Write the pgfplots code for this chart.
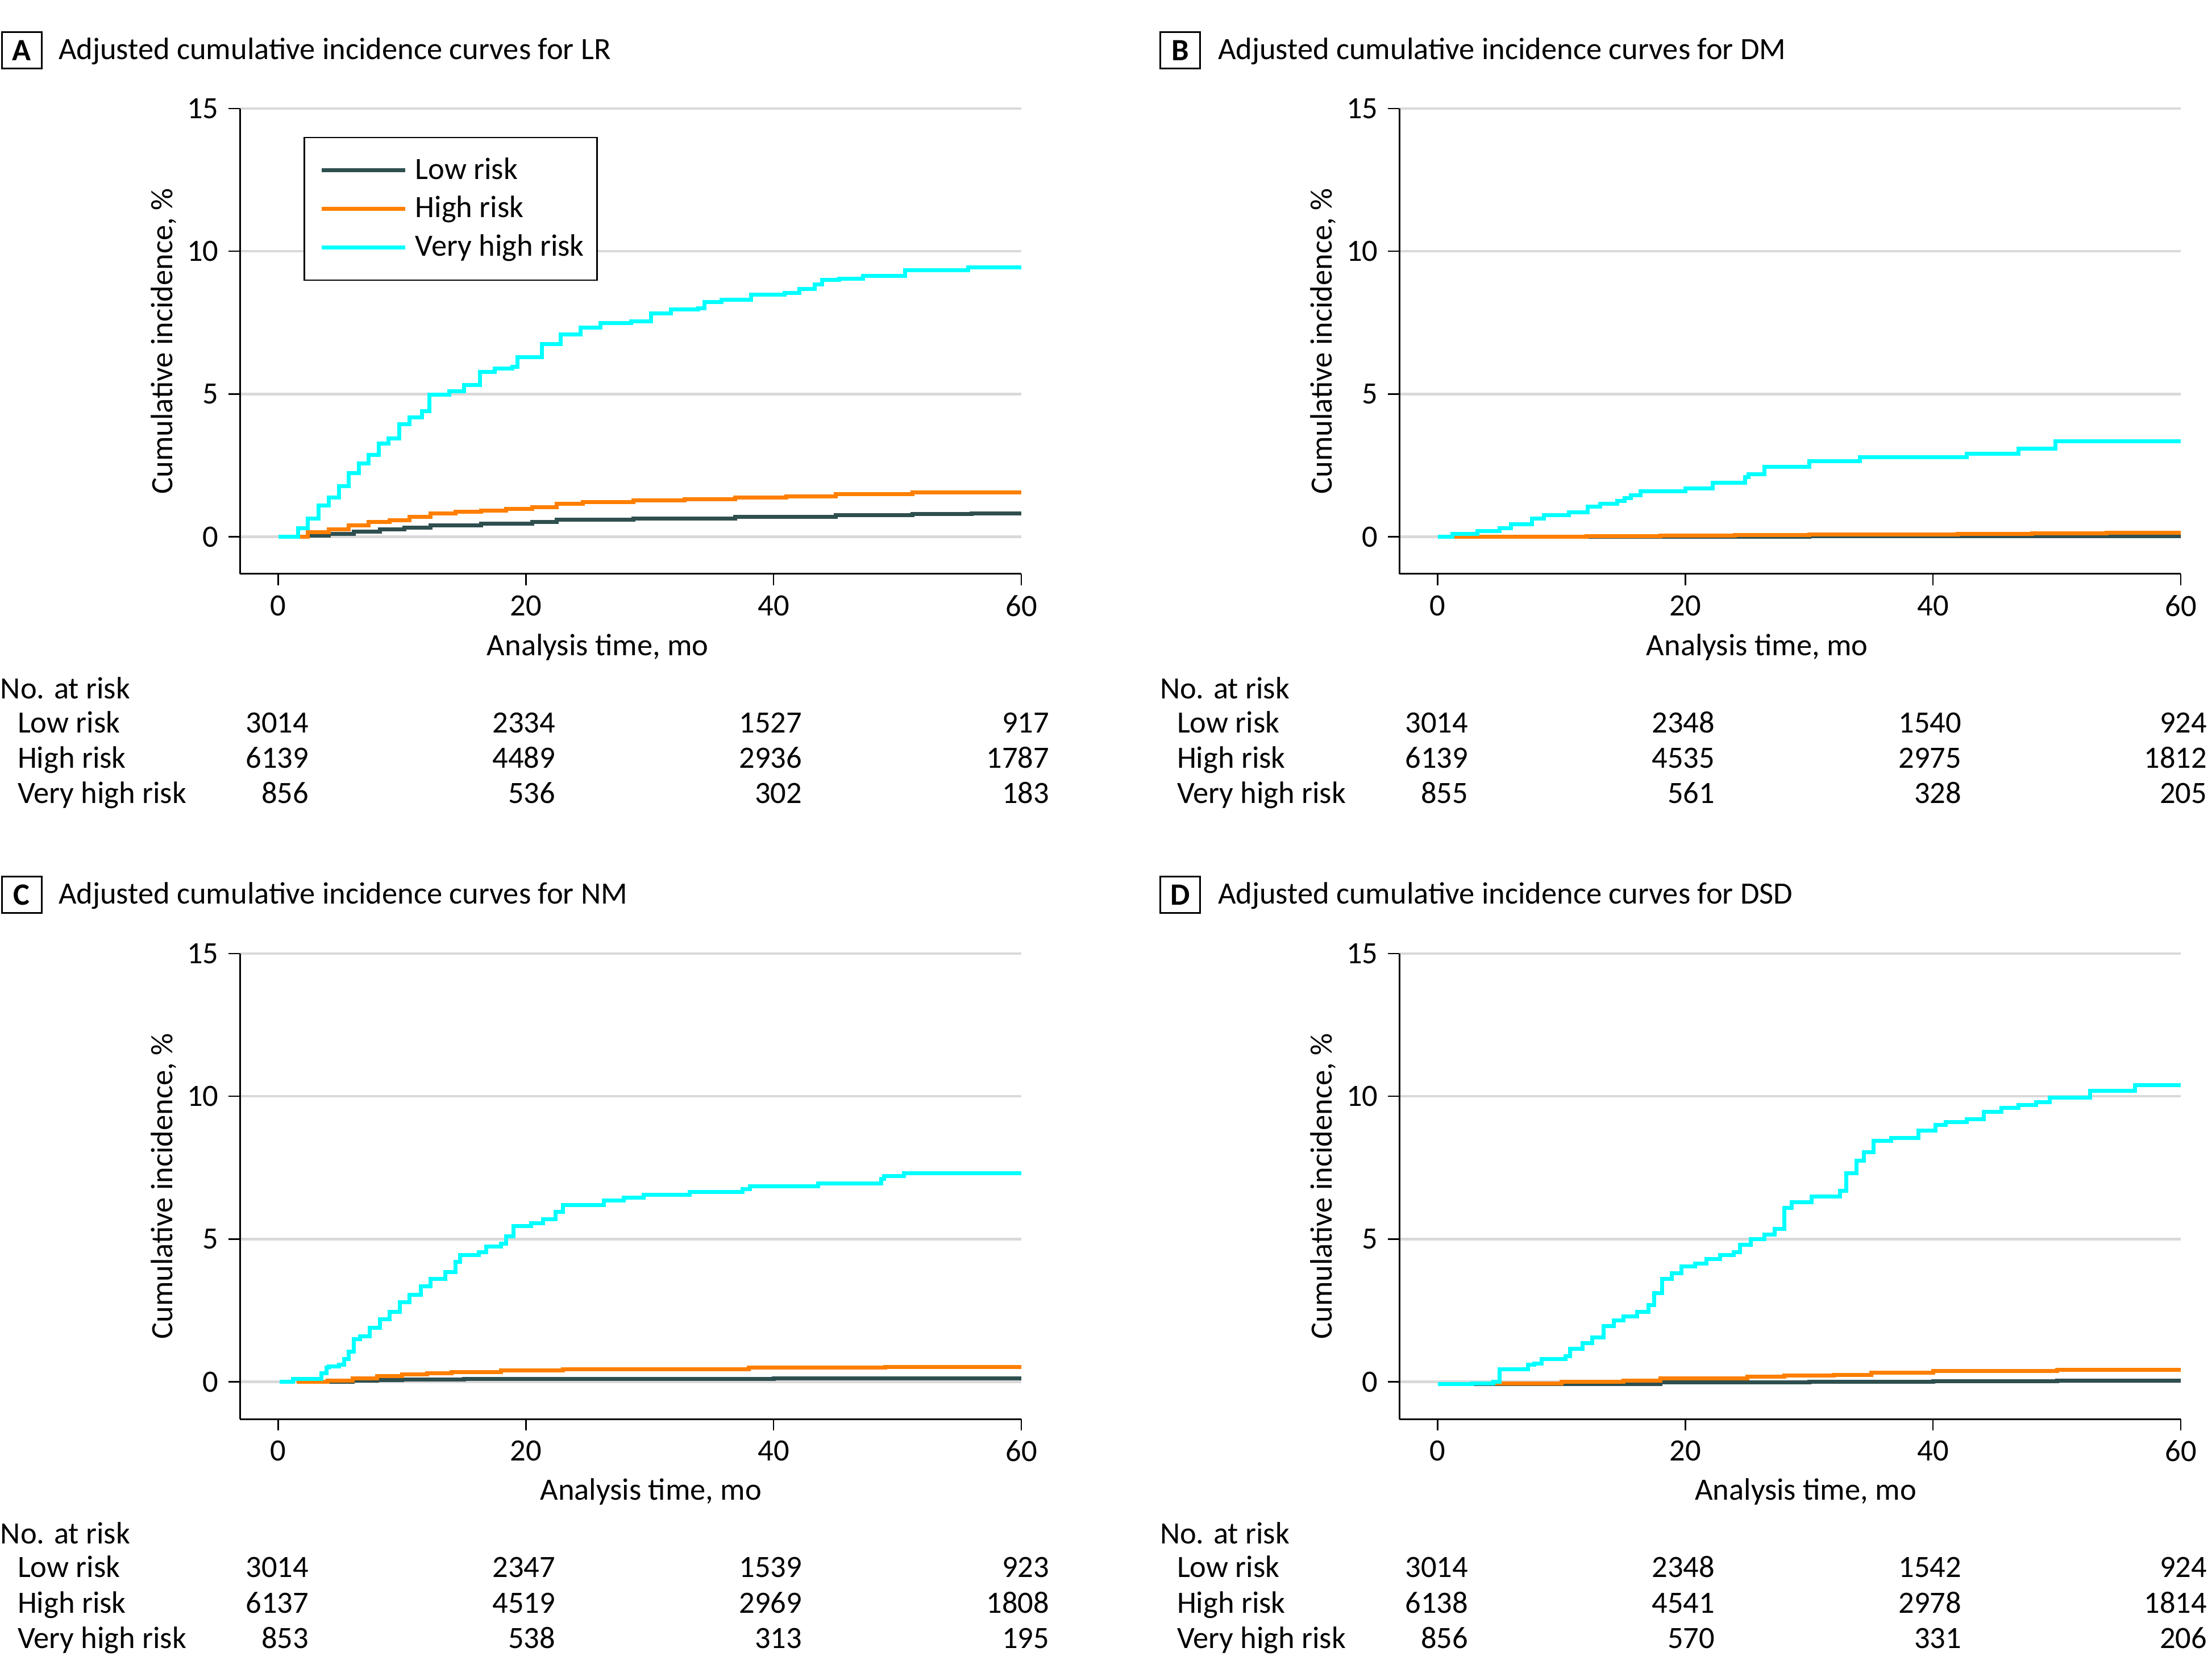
\documentclass[border=0pt]{standalone}
\usepackage{fontspec}
\setmainfont{Carlito}
\usepackage{pgfplots}
\pgfplotsset{compat=1.18}
\definecolor{lowc}{RGB}{47,79,79}
\definecolor{highc}{RGB}{255,127,0}
\definecolor{vhc}{RGB}{0,255,255}
\definecolor{gridc}{RGB}{217,217,217}
\newcommand{\fs}{\fontsize{10.9}{13}\selectfont}
\pgfplotsset{
  kmaxis/.style={
    scale only axis, width=275pt, height=163.8pt,
    xmin=-3.1, xmax=60, ymin=-1.3, ymax=15,
    axis x line*=bottom, axis y line*=left,
    axis line style={-, line width=0.6pt},
    xtick={0,20,40,60}, ytick={0,5,10,15},
    tick align=outside, major tick length=4pt,
    tick style={black, line width=0.5pt},
    ymajorgrids, grid style={gridc, line width=0.9pt},
    /pgf/number format/assume math mode=true,
    ticklabel style={font=\fs},
    label style={font=\fs},
    xlabel={Analysis time, mo},
    ylabel={Cumulative incidence, \%},
    ylabel style={at={(axis description cs:-0.0975,0.5)}, anchor=center},
    const plot,
  },
  lowp/.style={lowc, line width=1.4pt, no marks},
  highp/.style={highc, line width=1.4pt, no marks},
  vhp/.style={vhc, line width=1.4pt, no marks},
}
\begin{document}
\begin{tikzpicture}[font=\fs]
\path[use as bounding box] (0,0) rectangle (778.4pt,590pt);

% ---------------- Panel A ----------------
\begin{axis}[kmaxis, at={(84.4pt,388pt)}, anchor=south west,
  xlabel style={at={(axis description cs:0.458,-0.157)}, anchor=center},
  legend style={at={(axis description cs:0.0815,0.939)}, anchor=north west,
    draw=black, line width=0.5pt, font=\fs, row sep=0.5pt, inner xsep=2.5pt, inner ysep=5pt},
  legend cell align=left,
  legend image code/.code={\path (-3pt,0pt); \draw[#1] (0pt,0pt) -- (29.4pt,0pt); \path (30.2pt,0pt);}]
\addplot[lowp] coordinates {(1.5,0)(2.4,0.05)(4.1,0.10)(6.1,0.18)(8.2,0.27)(10.2,0.33)(12.3,0.41)(16.4,0.47)(20.5,0.53)(22.5,0.60)(28.7,0.64)(36.9,0.70)(45,0.75)(51.2,0.79)(56,0.81)(60,0.81)};
\addplot[highp] coordinates {(1.5,0)(2.4,0.16)(4.1,0.27)(5.7,0.41)(7.3,0.53)(9.0,0.58)(10.6,0.70)(12.3,0.81)(14.3,0.87)(16.4,0.92)(18.4,0.98)(20.5,1.04)(22.5,1.15)(24.6,1.21)(28.7,1.27)(32.8,1.32)(36.9,1.38)(41,1.42)(45,1.5)(51.2,1.55)(60,1.55)};
\addplot[vhp] coordinates {(0,0)(1.2,0)(1.6,0.3)(2.4,0.64)(3.25,1.1)(4.1,1.38)(4.9,1.78)(5.7,2.24)(6.5,2.58)(7.3,2.87)(8.1,3.27)(8.9,3.44)(9.75,3.95)(10.6,4.18)(11.6,4.41)(12.2,4.98)(13.8,5.09)(15.0,5.32)(16.3,5.78)(17.5,5.9)(18.9,5.95)(19.3,6.3)(21.3,6.75)(22.8,7.09)(24.4,7.32)(26.0,7.49)(28.5,7.55)(30.1,7.83)(31.7,7.97)(33.9,8.0)(34.4,8.23)(35.8,8.31)(38.2,8.49)(40.9,8.54)(42.1,8.68)(43.3,8.85)(43.9,8.99)(45.3,9.03)(47.2,9.14)(50.6,9.34)(55.7,9.43)(60,9.43)};
\legend{Low risk, High risk, Very high risk}
\end{axis}

% ---------------- Panel B ----------------
\begin{axis}[kmaxis, at={(492.4pt,388pt)}, anchor=south west,
  xlabel style={at={(axis description cs:0.458,-0.157)}, anchor=center}]
\addplot[lowp] coordinates {(0,0)(10,0.01)(30,0.02)(60,0.03)};
\addplot[highp] coordinates {(1,0)(6,0.01)(12,0.03)(18,0.04)(24,0.06)(30,0.08)(36,0.09)(42,0.11)(48,0.12)(54,0.14)(60,0.15)};
\addplot[vhp] coordinates {(0,0)(1.2,0.1)(3.2,0.2)(5.0,0.3)(5.9,0.45)(7.6,0.65)(8.6,0.75)(10.6,0.85)(12.1,1.05)(13.1,1.15)(14.5,1.25)(15.1,1.35)(15.6,1.45)(16.4,1.6)(20.0,1.7)(22.2,1.9)(24.8,2.1)(25.1,2.2)(26.4,2.45)(30.0,2.65)(34.1,2.78)(42.7,2.9)(46.9,3.08)(49.9,3.35)(60,3.35)};
\end{axis}

% ---------------- Panel C ----------------
\begin{axis}[kmaxis, at={(84.4pt,90.6pt)}, anchor=south west,
  xlabel style={at={(axis description cs:0.526,-0.156)}, anchor=center}]
\addplot[lowp] coordinates {(1.5,0)(4,0.01)(6,0.04)(8,0.07)(10,0.09)(15,0.10)(25,0.11)(40,0.12)(60,0.12)};
\addplot[highp] coordinates {(1.5,0)(4,0.05)(6,0.12)(8,0.2)(10,0.27)(12,0.3)(14,0.35)(18,0.4)(23,0.45)(38,0.5)(49,0.52)(60,0.53)};
\addplot[vhp] coordinates {(0.1,0)(1.2,0.1)(3.1,0.1)(3.5,0.3)(3.9,0.5)(4.1,0.55)(4.9,0.6)(5.3,0.8)(5.7,1.05)(6.1,1.5)(6.6,1.6)(7.4,1.9)(8.2,2.2)(9.0,2.45)(9.8,2.8)(10.6,3.05)(11.5,3.35)(12.3,3.6)(13.5,3.85)(14.3,4.2)(14.7,4.45)(16.2,4.55)(16.8,4.75)(18.0,4.85)(18.4,5.1)(19.0,5.45)(20.4,5.55)(21.4,5.7)(22.4,5.95)(23.0,6.2)(26.3,6.35)(27.9,6.45)(29.5,6.55)(33.2,6.65)(37.5,6.75)(38.1,6.85)(43.6,6.95)(48.7,7.1)(48.9,7.2)(50.5,7.3)(60,7.3)};
\end{axis}

% ---------------- Panel D ----------------
\begin{axis}[kmaxis, at={(492.4pt,90.6pt)}, anchor=south west,
  xlabel style={at={(axis description cs:0.520,-0.156)}, anchor=center}]
\addplot[lowp] coordinates {(0,-0.08)(10,-0.07)(18,-0.02)(30,0.0)(40,0.02)(50,0.04)(60,0.05)};
\addplot[highp] coordinates {(2.8,-0.05)(10,0.0)(15,0.05)(18,0.12)(25,0.18)(28,0.23)(32,0.25)(35,0.33)(40,0.38)(50,0.42)(60,0.45)};
\addplot[vhp] coordinates {(0,-0.08)(2.8,-0.05)(4.5,0.0)(5.0,0.45)(7.3,0.6)(7.8,0.65)(8.4,0.8)(10.3,0.9)(10.7,1.15)(11.7,1.35)(12.5,1.55)(13.4,1.95)(14.2,2.15)(15.0,2.3)(16.1,2.45)(17.0,2.7)(17.5,3.1)(18.1,3.6)(18.9,3.8)(19.7,4.05)(20.8,4.15)(21.7,4.3)(22.8,4.45)(23.9,4.55)(24.4,4.8)(25.3,5.0)(26.4,5.15)(27.2,5.35)(28.0,6.1)(28.6,6.3)(30.2,6.5)(32.5,6.7)(33.0,7.3)(33.8,7.75)(34.4,8.05)(35.2,8.45)(36.6,8.55)(38.8,8.8)(40.2,9.0)(41.0,9.1)(42.7,9.2)(44.1,9.45)(45.5,9.6)(46.9,9.7)(48.3,9.8)(49.4,9.95)(52.7,10.2)(56.3,10.4)(60,10.4)};
\end{axis}

% ---------------- Titles ----------------
\begin{scope}[every node/.style={inner sep=0pt}]
\node[draw, line width=0.6pt, minimum width=14pt, minimum height=12.8pt, anchor=north west, font=\fs\bfseries] at (0.3pt,579pt) {A};
\node[anchor=west] at (20.4pt,572pt) {Adjusted cumulative incidence curves for LR};
\node[draw, line width=0.6pt, minimum width=14pt, minimum height=12.8pt, anchor=north west, font=\fs\bfseries] at (408pt,579pt) {B};
\node[anchor=west] at (428.4pt,572pt) {Adjusted cumulative incidence curves for DM};
\node[draw, line width=0.6pt, minimum width=14pt, minimum height=12.8pt, anchor=north west, font=\fs\bfseries] at (0.3pt,281.8pt) {C};
\node[anchor=west] at (20.4pt,274.7pt) {Adjusted cumulative incidence curves for NM};
\node[draw, line width=0.6pt, minimum width=14pt, minimum height=12.8pt, anchor=north west, font=\fs\bfseries] at (408pt,281.8pt) {D};
\node[anchor=west] at (428.4pt,274.7pt) {Adjusted cumulative incidence curves for DSD};

% ---------------- Risk tables ----------------
% A
\node[anchor=mid west] at (0pt,346.4pt) {No. at risk};
\node[anchor=mid west] at (6pt,334.4pt) {Low risk};
\node[anchor=mid west] at (6pt,322pt) {High risk};
\node[anchor=mid west] at (6pt,309.6pt) {Very high risk};
\foreach \x/\a/\b/\c in {108.8/3014/6139/856, 195.6/2334/4489/536, 282.4/1527/2936/302, 369.4/917/1787/183}{
  \node[anchor=mid east] at (\x pt,334.4pt) {\a};
  \node[anchor=mid east] at (\x pt,322pt) {\b};
  \node[anchor=mid east] at (\x pt,309.6pt) {\c};
}
% B
\node[anchor=mid west] at (408pt,346.4pt) {No. at risk};
\node[anchor=mid west] at (414pt,334.4pt) {Low risk};
\node[anchor=mid west] at (414pt,322pt) {High risk};
\node[anchor=mid west] at (414pt,309.6pt) {Very high risk};
\foreach \x/\a/\b/\c in {516.8/3014/6139/855, 603.6/2348/4535/561, 690.4/1540/2975/328, 776.8/924/1812/205}{
  \node[anchor=mid east] at (\x pt,334.4pt) {\a};
  \node[anchor=mid east] at (\x pt,322pt) {\b};
  \node[anchor=mid east] at (\x pt,309.6pt) {\c};
}
% C
\node[anchor=mid west] at (0pt,49pt) {No. at risk};
\node[anchor=mid west] at (6pt,37.2pt) {Low risk};
\node[anchor=mid west] at (6pt,24.6pt) {High risk};
\node[anchor=mid west] at (6pt,12.2pt) {Very high risk};
\foreach \x/\a/\b/\c in {108.8/3014/6137/853, 195.6/2347/4519/538, 282.4/1539/2969/313, 369.4/923/1808/195}{
  \node[anchor=mid east] at (\x pt,37.2pt) {\a};
  \node[anchor=mid east] at (\x pt,24.6pt) {\b};
  \node[anchor=mid east] at (\x pt,12.2pt) {\c};
}
% D
\node[anchor=mid west] at (408pt,49pt) {No. at risk};
\node[anchor=mid west] at (414pt,37.2pt) {Low risk};
\node[anchor=mid west] at (414pt,24.6pt) {High risk};
\node[anchor=mid west] at (414pt,12.2pt) {Very high risk};
\foreach \x/\a/\b/\c in {516.8/3014/6138/856, 603.6/2348/4541/570, 690.4/1542/2978/331, 776.8/924/1814/206}{
  \node[anchor=mid east] at (\x pt,37.2pt) {\a};
  \node[anchor=mid east] at (\x pt,24.6pt) {\b};
  \node[anchor=mid east] at (\x pt,12.2pt) {\c};
}
\end{scope}
\end{tikzpicture}
\end{document}
